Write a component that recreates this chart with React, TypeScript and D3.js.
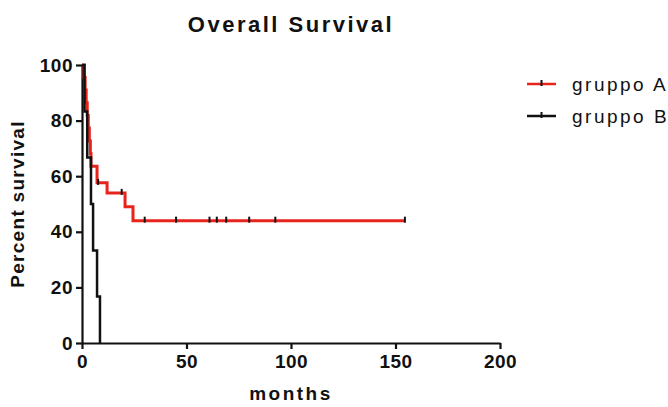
import { useEffect, useRef } from "react";
import * as d3 from "d3";

// Kaplan-Meier steps: [months, percent]
const groupA: [number, number][] = [
  [0, 100], [1, 95.5], [1.5, 91], [2, 86.4], [2.5, 81.8], [3, 77.3],
  [3.5, 72.7], [4, 68.2], [4.3, 63.6], [7.2, 57.6], [12, 54], [20.6, 49],
  [24.4, 44], [154.5, 44],
];
const groupB: [number, number][] = [
  [0, 100], [1.2, 83.3], [2.5, 66.7], [4.3, 50], [5.3, 33.3], [7.2, 16.7],
  [8.6, 0],
];
// censored observations of group A
const censorA: [number, number][] = [
  [7.7, 57.6], [19, 54], [30, 44], [45, 44], [61, 44], [64.5, 44],
  [69, 44], [80, 44], [92.5, 44], [154.5, 44],
];
const xTicks = [0, 50, 100, 150, 200];
const yTicks = [0, 20, 40, 60, 80, 100];
const legendItems = [
  { label: "gruppo A", color: "#e8231c" },
  { label: "gruppo B", color: "#111111" },
];

export default function App() {
  const svgRef = useRef<SVGSVGElement>(null);

  useEffect(() => {
    if (!svgRef.current) return;
    const width = 668;
    const height = 407;
    const margin = { top: 65, right: 168, bottom: 64, left: 82 };

    const svg = d3.select(svgRef.current);
    svg.selectAll("*").remove();

    const x = d3.scaleLinear().domain([0, 200]).range([margin.left, width - margin.right]);
    const y = d3.scaleLinear().domain([0, 100]).range([height - margin.bottom, margin.top]);

    const font = "'Liberation Sans', Arial, sans-serif";

    // axes
    const xAxis = svg
      .append("g")
      .attr("transform", `translate(0,${y(0)})`)
      .call(d3.axisBottom(x).tickValues(xTicks).tickSize(6).tickPadding(6).tickSizeOuter(0));
    const yAxis = svg
      .append("g")
      .attr("transform", `translate(${x(0)},0)`)
      .call(d3.axisLeft(y).tickValues(yTicks).tickSize(6).tickPadding(3).tickSizeOuter(0));

    [xAxis, yAxis].forEach((g) => {
      g.select(".domain").attr("stroke", "#111").attr("stroke-width", 2.2);
      g.selectAll(".tick line").attr("stroke", "#111").attr("stroke-width", 2.2);
      g.selectAll(".tick text")
        .attr("fill", "#111")
        .style("font-family", font)
        .style("font-size", "19px")
        .style("font-weight", "bold")
        .style("letter-spacing", "0.5px");
    });

    const line = d3
      .line<[number, number]>()
      .x((d) => x(d[0]))
      .y((d) => y(d[1]))
      .curve(d3.curveStepAfter);

    svg
      .append("path")
      .datum(groupA)
      .attr("fill", "none")
      .attr("stroke", "#e8231c")
      .attr("stroke-width", 3)
      .attr("d", line);

    svg
      .append("path")
      .datum(groupB)
      .attr("fill", "none")
      .attr("stroke", "#111")
      .attr("stroke-width", 2.5)
      .attr("d", line);

    svg
      .append("g")
      .selectAll("line")
      .data(censorA)
      .join("line")
      .attr("x1", (d) => x(d[0]))
      .attr("x2", (d) => x(d[0]))
      .attr("y1", (d) => y(d[1]) - 4)
      .attr("y2", (d) => y(d[1]) + 2)
      .attr("stroke", "#111")
      .attr("stroke-width", 2);

    // title and axis labels
    svg
      .append("text")
      .attr("x", (x(0) + x(200)) / 2)
      .attr("y", 32)
      .attr("text-anchor", "middle")
      .style("font-family", font)
      .style("font-size", "22px")
      .style("font-weight", "bold")
      .style("letter-spacing", "2.5px")
      .attr("fill", "#111")
      .text("Overall Survival");

    svg
      .append("text")
      .attr("x", (x(0) + x(200)) / 2)
      .attr("y", 400)
      .attr("text-anchor", "middle")
      .style("font-family", font)
      .style("font-size", "19px")
      .style("font-weight", "bold")
      .style("letter-spacing", "2.5px")
      .attr("fill", "#111")
      .text("months");

    svg
      .append("text")
      .attr("transform", `translate(24,${(y(0) + y(100)) / 2}) rotate(-90)`)
      .attr("text-anchor", "middle")
      .style("font-family", font)
      .style("font-size", "19px")
      .style("font-weight", "bold")
      .style("letter-spacing", "1.3px")
      .attr("fill", "#111")
      .text("Percent survival");

    // legend
    const legend = svg
      .append("g")
      .selectAll("g")
      .data(legendItems)
      .join("g")
      .attr("transform", (d, i) => `translate(527,${84 + i * 32})`);
    legend
      .append("line")
      .attr("x1", 0)
      .attr("x2", 29)
      .attr("stroke", (d) => d.color)
      .attr("stroke-width", 2.5);
    legend
      .append("line")
      .attr("x1", 14.5)
      .attr("x2", 14.5)
      .attr("y1", -4)
      .attr("y2", 2)
      .attr("stroke", "#111")
      .attr("stroke-width", 2);
    legend
      .append("text")
      .attr("x", 45)
      .attr("y", 7)
      .style("font-family", font)
      .style("font-size", "19px")
      .style("letter-spacing", "2.5px")
      .attr("fill", "#111")
      .text((d) => d.label);
  }, []);

  return (
    <svg
      ref={svgRef}
      width={668}
      height={407}
      style={{ position: "absolute", left: 0, top: 0, background: "#fff" }}
    />
  );
}
